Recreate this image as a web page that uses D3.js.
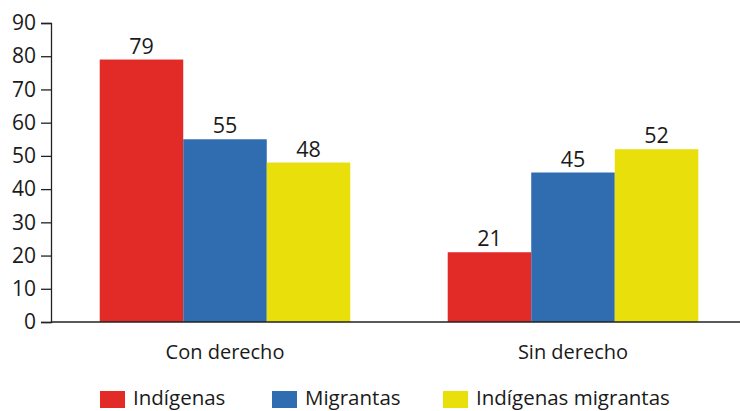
<!DOCTYPE html>
<html><head><meta charset="utf-8">
<script src="https://cdn.jsdelivr.net/npm/d3@7"></script>
<style>body{margin:0;background:#fff}text{font-family:"Open Sans",sans-serif;fill:#1a1a1a}</style>
</head><body><svg id="c" width="740" height="411"></svg>
<script>
const categories = ["Con derecho", "Sin derecho"];
const seriesNames = ["Indígenas", "Migrantas", "Indígenas migrantas"];
const indigenas = [79, 21];
const migrantas = [55, 45];
const indigenasMigrantas = [48, 52];
const yTicks = [0,10,20,30,40,50,60,70,80,90];
const colors = ["#E22B27", "#2F6DB0", "#E8DF0B"];

const seriesValues = [indigenas, migrantas, indigenasMigrantas];
const svg = d3.select("#c");
const x0 = 51, x1 = 747, yTop = 23, yBot = 322;
const y = d3.scaleLinear().domain([0, 90]).range([yBot, yTop]);
const xb = d3.scaleBand().domain(categories).range([x0, x1]).paddingInner(0.28).paddingOuter(0.14);
const xs = d3.scaleBand().domain(seriesNames).range([0, xb.bandwidth()]);

// y axis
const ya = svg.append("g").attr("transform", `translate(${x0},0)`)
  .call(d3.axisLeft(y).tickValues(yTicks).tickSize(10).tickPadding(5));
ya.select(".domain").attr("stroke", "#222").attr("stroke-width", 1.3);
ya.selectAll(".tick line").attr("stroke", "#222").attr("stroke-width", 1.3);
ya.selectAll("text").style("font-size", "21px").attr("fill", "#1a1a1a");

// bars
categories.forEach((c, ci) => {
  seriesNames.forEach((s, si) => {
    const v = seriesValues[si][ci];
    svg.append("rect").attr("x", xb(c) + xs(s)).attr("y", y(v))
      .attr("width", xs.bandwidth()).attr("height", y(0) - y(v)).attr("fill", colors[si]);
    svg.append("text").attr("x", xb(c) + xs(s) + xs.bandwidth() / 2).attr("y", y(v) - 6)
      .attr("text-anchor", "middle").style("font-size", "21.5px").text(v);
  });
  svg.append("text").attr("x", xb(c) + xb.bandwidth() / 2).attr("y", 359)
    .attr("text-anchor", "middle").style("font-size", "20px").text(c);
});

// x axis line
svg.append("line").attr("x1", x0).attr("x2", 740).attr("y1", y(0)).attr("y2", y(0))
  .attr("stroke", "#222").attr("stroke-width", 1.3);

// legend
const legX = [100, 272, 443];
seriesNames.forEach((s, i) => {
  svg.append("rect").attr("x", legX[i]).attr("y", 391).attr("width", 25).attr("height", 17).attr("fill", colors[i]);
  svg.append("text").attr("x", legX[i] + 33).attr("y", 405).style("font-size", "20.5px").text(s);
});
</script></body></html>
